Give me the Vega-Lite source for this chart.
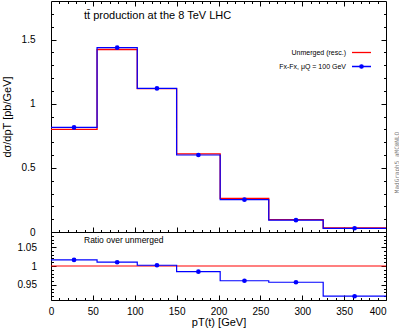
{
  "$schema": "https://vega.github.io/schema/vega-lite/v6.json",
  "autosize": "pad",
  "padding": 0,
  "bounds": "flush",
  "spacing": 0,
  "datasets": {
    "bins": [
      {"lo": 0, "hi": 55, "mid": 27.5, "unmerged": 0.800, "fxfx": 0.815, "ratio": 1.016},
      {"lo": 55, "hi": 103, "mid": 79, "unmerged": 1.422, "fxfx": 1.436, "ratio": 1.010},
      {"lo": 103, "hi": 150, "mid": 126.5, "unmerged": 1.117, "fxfx": 1.119, "ratio": 1.002},
      {"lo": 150, "hi": 202, "mid": 176, "unmerged": 0.609, "fxfx": 0.600, "ratio": 0.985},
      {"lo": 202, "hi": 260, "mid": 231, "unmerged": 0.262, "fxfx": 0.252, "ratio": 0.961},
      {"lo": 260, "hi": 325, "mid": 292.5, "unmerged": 0.096, "fxfx": 0.092, "ratio": 0.957},
      {"lo": 325, "hi": 400, "mid": 362.5, "unmerged": 0.031, "fxfx": 0.029, "ratio": 0.920}
    ]
  },
  "config": {
    "view": {"stroke": "black", "strokeWidth": 1},
    "font": "Liberation Sans",
    "axis": {
      "domain": false, "grid": false, "tickColor": "black", "tickWidth": 1,
      "labelColor": "black", "labelFont": "Liberation Sans", "labelFontSize": 10,
      "titleFont": "Liberation Sans", "titleFontWeight": "normal", "titleFontSize": 11, "titleColor": "black",
      "labelFlush": false, "labelOverlap": false
    }
  },
  "vconcat": [
    {
      "width": 335,
      "height": 231,
      "title": {"text": "tt̄ production at the 8 TeV LHC", "anchor": "start", "frame": "group", "dx": 33, "offset": -20, "fontSize": 11, "fontWeight": "normal", "font": "Liberation Sans", "color": "black"},
      "data": {"name": "bins"},
      "resolve": {"axis": {"x": "independent", "y": "independent"}},
      "layer": [
        {
          "transform": [{"fold": ["lo", "hi"], "as": ["edge", "x"]}],
          "mark": {"type": "line", "strokeWidth": 1.3},
          "encoding": {
            "x": {"field": "x", "type": "quantitative", "scale": {"domain": [0, 400], "nice": false, "zero": false},
              "axis": {"orient": "bottom", "values": [10,20,30,40,50,60,70,80,90,100,110,120,130,140,150,160,170,180,190,200,210,220,230,240,250,260,270,280,290,300,310,320,330,340,350,360,370,380,390], "labels": false, "title": null,
                "tickSize": {"condition": {"test": "datum.value % 50 === 0", "value": -5}, "value": -2.5}}},
            "y": {"field": "unmerged", "type": "quantitative", "scale": {"domain": [0, 1.8], "nice": false},
              "axis": {"orient": "left", "values": [0,0.1,0.2,0.3,0.4,0.5,0.6,0.7,0.8,0.9,1,1.1,1.2,1.3,1.4,1.5,1.6,1.7], "format": "~g", "labelOverlap": false,
                "labelExpr": "abs(datum.value*2-round(datum.value*2)) < 1e-6 ? datum.label : ''",
                "tickSize": {"condition": {"test": "abs(datum.value*2-round(datum.value*2)) < 1e-6", "value": -5}, "value": -2.5},
                "labelPadding": 21, "title": "dσ/dpT [pb/GeV]", "titlePadding": 9}},
            "order": [{"field": "x"}, {"field": "edge"}],
            "color": {"datum": "Unmerged (resc.)", "type": "nominal",
              "scale": {"domain": ["Unmerged (resc.)", "Fx-Fx, μQ = 100 GeV"], "range": ["#ff0000", "#0000ff"]},
              "legend": {"orient": "none", "legendX": 300, "legendY": 41, "title": null, "padding": 0,
                "symbolType": "stroke", "symbolSize": 361, "symbolStrokeWidth": 1.3,
                "labelFontSize": 7, "labelFont": "Liberation Sans", "labelColor": "black", "labelAlign": "right", "labelOffset": -26, "rowPadding": -8,
                "encoding": {"symbols": {
                  "shape": {"condition": {"test": "datum.value === 'Unmerged (resc.)'", "value": "M-1,0H1"}, "value": "M-1,0H1M0.18,0A0.18,0.18,0,1,1,-0.18,0A0.18,0.18,0,1,1,0.18,0Z"},
                  "fill": {"condition": {"test": "datum.value === 'Unmerged (resc.)'", "value": "transparent"}, "value": "#0000ff"},
                  "fillOpacity": {"value": 1}
                }}}}
          }
        },
        {
          "transform": [{"fold": ["lo", "hi"], "as": ["edge", "x"]}],
          "mark": {"type": "line", "strokeWidth": 1.2},
          "encoding": {
            "x": {"field": "x", "type": "quantitative",
              "axis": {"orient": "top", "values": [10,20,30,40,50,60,70,80,90,100,110,120,130,140,150,160,170,180,190,200,210,220,230,240,250,260,270,280,290,300,310,320,330,340,350,360,370,380,390], "labels": false, "title": null,
                "tickSize": {"condition": {"test": "datum.value % 50 === 0", "value": -5}, "value": -2.5}}},
            "y": {"field": "fxfx", "type": "quantitative",
              "axis": {"orient": "right", "values": [0.1,0.2,0.3,0.4,0.5,0.6,0.7,0.8,0.9,1,1.1,1.2,1.3,1.4,1.5,1.6,1.7], "labels": false,
                "tickSize": {"condition": {"test": "abs(datum.value*2-round(datum.value*2)) < 1e-6", "value": -5}, "value": -2.5},
                "title": "MadGraph5_aMC@NLO", "titleAngle": 270, "titleFont": "DejaVu Sans Mono", "titleFontSize": 6, "titleColor": "#808080", "titleY": 161, "titlePadding": 10, "titleBaseline": "middle"}},
            "order": [{"field": "x"}, {"field": "edge"}],
            "color": {"datum": "Fx-Fx, μQ = 100 GeV", "type": "nominal"}
          }
        },
        {
          "mark": {"type": "point", "filled": true, "size": 22, "opacity": 1},
          "encoding": {
            "x": {"field": "mid", "type": "quantitative", "axis": null},
            "y": {"field": "fxfx", "type": "quantitative", "axis": null},
            "color": {"datum": "Fx-Fx, μQ = 100 GeV", "type": "nominal"}
          }
        }
      ]
    },
    {
      "width": 335,
      "height": 68,
      "title": {"text": "Ratio over unmerged", "anchor": "start", "frame": "group", "dx": 33, "offset": -14, "fontSize": 8.5, "fontWeight": "normal", "font": "Liberation Sans", "color": "black"},
      "data": {"name": "bins"},
      "resolve": {"axis": {"x": "independent", "y": "independent"}},
      "layer": [
        {
          "data": {"values": [{}]},
          "mark": {"type": "rule", "color": "#ff0000", "strokeWidth": 1.2},
          "encoding": {
            "y": {"datum": 1, "type": "quantitative", "scale": {"domain": [0.91, 1.09], "nice": false, "zero": false},
              "axis": {"orient": "left", "values": [0.92,0.93,0.94,0.95,0.96,0.97,0.98,0.99,1,1.01,1.02,1.03,1.04,1.05,1.06,1.07,1.08], "format": "~g", "labelOverlap": false,
                "labelExpr": "abs(datum.value*20-round(datum.value*20)) < 1e-6 ? datum.label : ''",
                "tickSize": {"condition": {"test": "abs(datum.value*20-round(datum.value*20)) < 1e-6", "value": -5}, "value": -2.5},
                "labelPadding": 19.5, "title": null}}
          }
        },
        {
          "transform": [{"fold": ["lo", "hi"], "as": ["edge", "x"]}],
          "mark": {"type": "line", "strokeWidth": 1.2, "color": "#0000ff"},
          "encoding": {
            "x": {"field": "x", "type": "quantitative", "scale": {"domain": [0, 400], "nice": false, "zero": false},
              "axis": {"orient": "bottom", "values": [0,10,20,30,40,50,60,70,80,90,100,110,120,130,140,150,160,170,180,190,200,210,220,230,240,250,260,270,280,290,300,310,320,330,340,350,360,370,380,390,400],
                "labelOverlap": false,
                "labelExpr": "datum.value % 50 === 0 ? datum.label : ''",
                "labelAlign": {"condition": {"test": "datum.value === 400", "value": "right"}, "value": "center"},
                "tickSize": {"condition": {"test": "datum.value % 50 === 0", "value": -5}, "value": -2.5},
                "labelPadding": 11, "title": "pT(t) [GeV]", "titlePadding": -2.5}},
            "y": {"field": "ratio", "type": "quantitative",
              "axis": {"orient": "right", "values": [0.92,0.93,0.94,0.95,0.96,0.97,0.98,0.99,1,1.01,1.02,1.03,1.04,1.05,1.06,1.07,1.08], "labels": false, "title": null,
                "tickSize": {"condition": {"test": "abs(datum.value*20-round(datum.value*20)) < 1e-6", "value": -5}, "value": -2.5}}},
            "order": [{"field": "x"}, {"field": "edge"}]
          }
        },
        {
          "mark": {"type": "point", "filled": true, "size": 22, "opacity": 1, "color": "#0000ff"},
          "encoding": {
            "x": {"field": "mid", "type": "quantitative", "axis": null},
            "y": {"field": "ratio", "type": "quantitative", "axis": null}
          }
        }
      ]
    }
  ]
}
